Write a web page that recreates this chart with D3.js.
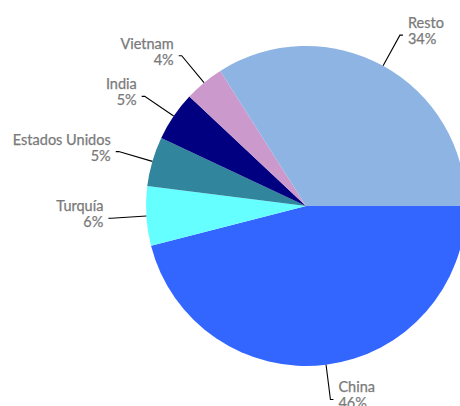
<!DOCTYPE html>
<html><head><meta charset="utf-8">
<script src="https://cdn.jsdelivr.net/npm/d3@7"></script>
<style>html,body{margin:0;padding:0;background:#fff;overflow:hidden}</style>
</head><body>
<svg id="chart" width="460" height="406"></svg>
<script>
const categories = ["China", "Turquía", "Estados Unidos", "India", "Vietnam", "Resto"];
const values = [46, 6, 5, 5, 4, 34];
const colors = ["#3366FF", "#66FFFF", "#31859C", "#000080", "#CC99CC", "#8EB4E3"];

const svg = d3.select("#chart");
const cx = 306, cy = 206, r = 160, rElbow = 195;
const data = categories.map((c, i) => ({ name: c, value: values[i], color: colors[i] }));

const pie = d3.pie().sort(null).value(d => d.value)
  .startAngle(Math.PI / 2).endAngle(Math.PI / 2 + 2 * Math.PI);
const arcs = pie(data);
const arc = d3.arc().innerRadius(0).outerRadius(r);

const g = svg.append("g").attr("transform", `translate(${cx},${cy})`);
g.selectAll("path.slice").data(arcs).join("path")
  .attr("class", "slice")
  .attr("d", arc)
  .attr("fill", d => d.data.color);

const pt = (a, rad) => [rad * Math.sin(a), -rad * Math.cos(a)];

arcs.forEach(d => {
  const mid = (d.startAngle + d.endAngle) / 2;
  const p0 = pt(mid, r);
  const p1 = pt(mid, rElbow);
  const side = Math.sin(mid) >= 0 ? 1 : -1;
  const p2 = [p1[0] + side * 3, p1[1]];
  g.append("polyline")
    .attr("points", [p0, p1, p2].map(p => p.join(",")).join(" "))
    .attr("fill", "none").attr("stroke", "#000").attr("stroke-width", 1.1);
  const t = g.append("text")
    .attr("x", p2[0] + side * 5)
    .attr("text-anchor", side > 0 ? "start" : "end")
    .attr("font-family", "Lato, sans-serif")
    .attr("font-size", 14.5)
    .attr("fill", "#7a7a7a")
    .attr("stroke", "#7a7a7a")
    .attr("stroke-width", 0.25);
  t.append("tspan").attr("x", p2[0] + side * 5).attr("y", p1[1] - 7).text(d.data.name);
  t.append("tspan").attr("x", p2[0] + side * 5).attr("y", p1[1] + 9).text(d.data.value + "%");
});
</script>
</body></html>
